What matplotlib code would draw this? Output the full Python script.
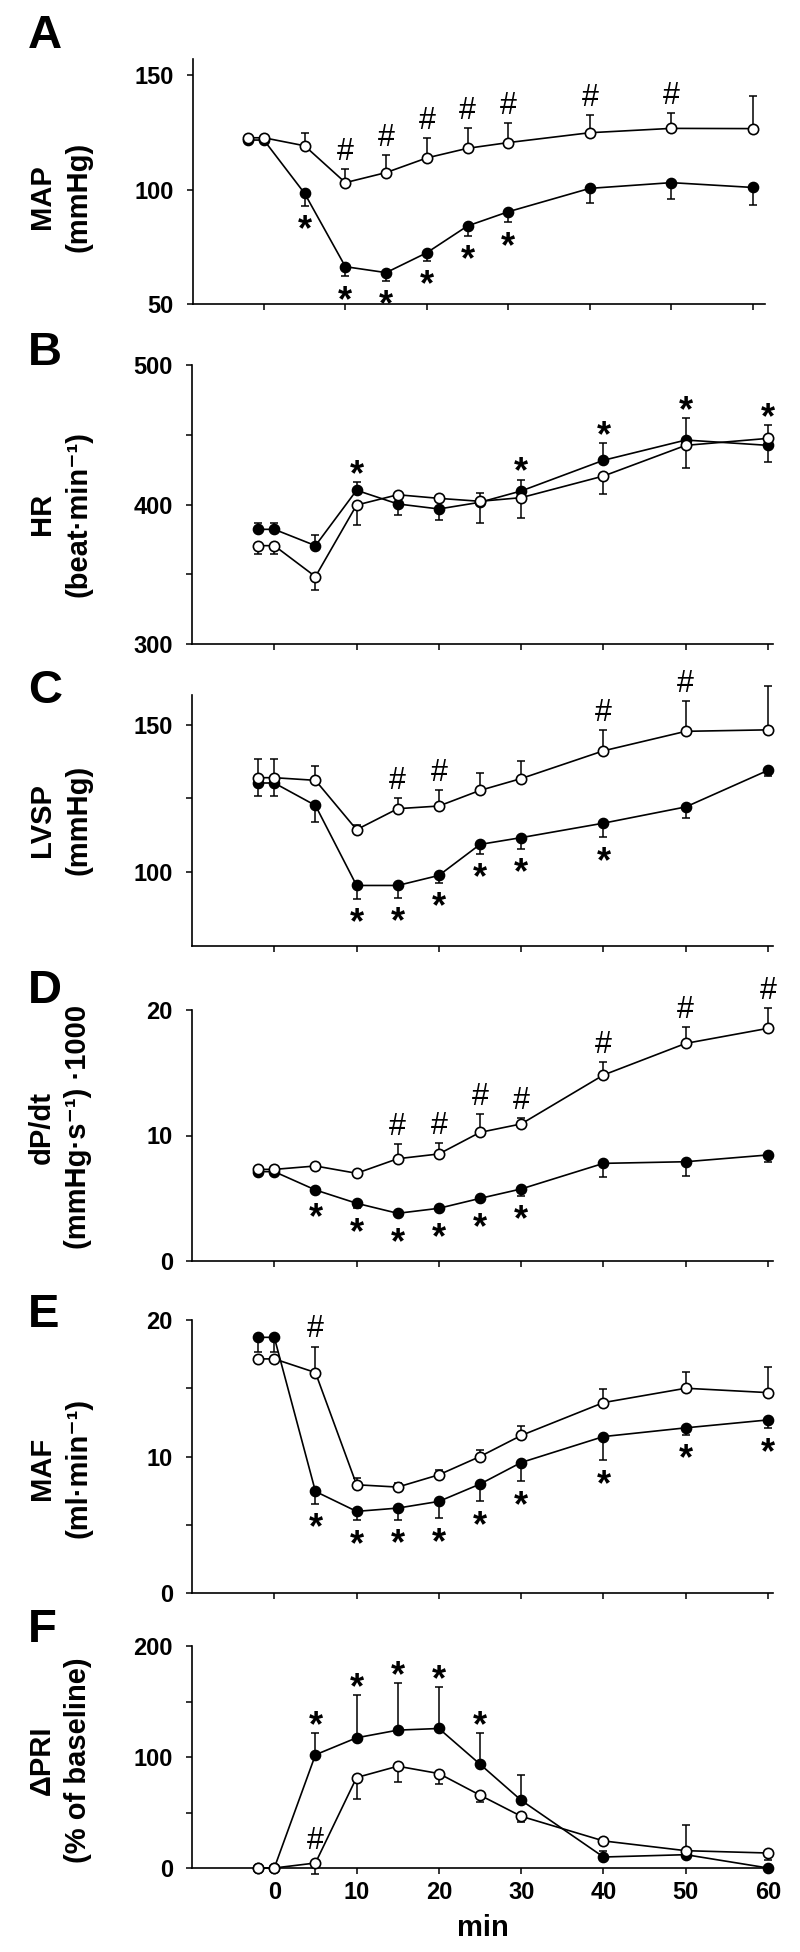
import matplotlib
matplotlib.use("Agg")
import matplotlib.pyplot as plt

plt.rcParams['font.family'] = ['Liberation Sans', 'DejaVu Sans']

# ---------------- data ----------------
minutes = [-2, 0, 5, 10, 15, 20, 25, 30, 40, 50, 60]
xtick_values = [0, 10, 20, 30, 40, 50, 60]

# A: MAP
map_filled = [121.6, 121.6, 98.3, 66.3, 63.7, 72.4, 84.1, 90.3, 100.5, 103.0, 100.9]
map_filled_lo = [0, 0, 5.5, 4.1, 3.5, 3.5, 4.4, 4.6, 6.2, 7.0, 7.7]
map_filled_hi = [0, 0, 0, 0, 0, 0, 0, 0, 0, 0, 0]
map_open = [122.6, 122.6, 119.1, 103.0, 107.4, 113.8, 118.0, 120.5, 124.8, 126.7, 126.6]
map_open_lo = [0, 0, 0, 0, 0, 0, 0, 0, 0, 0, 0]
map_open_hi = [0.8, 0.8, 5.4, 5.8, 7.6, 8.8, 8.7, 8.4, 7.7, 6.7, 14.4]
map_star = [5, 10, 15, 20, 25, 30]
map_hash = [10, 15, 20, 25, 30, 40, 50]

# B: HR
hr_filled = [382.2, 382.2, 370.5, 410.2, 400.4, 396.8, 401.6, 409.7, 431.7, 446.2, 442.4]
hr_filled_lo = [0, 0, 0, 0, 7.9, 7.9, 0, 0, 0, 0, 11.7]
hr_filled_hi = [4.8, 4.8, 7.4, 5.9, 0, 0, 6.4, 7.9, 12.1, 15.8, 0]
hr_open = [370.5, 370.5, 348.3, 399.6, 407.0, 404.4, 402.3, 404.9, 420.4, 442.4, 447.4]
hr_open_lo = [6.0, 6.0, 9.3, 14.3, 0, 0, 15.3, 14.9, 13.1, 16.4, 0]
hr_open_hi = [0, 0, 0, 0, 0, 0, 0, 0, 0, 0, 9.6]
hr_star = [10, 30, 40, 50, 60]
hr_hash = []

# C: LVSP
lvsp_filled = [130.2, 130.2, 122.6, 95.5, 95.5, 98.9, 109.4, 111.7, 116.6, 122.1, 134.5]
lvsp_filled_lo = [4.5, 4.5, 5.6, 4.5, 4.2, 2.5, 3.2, 3.8, 4.7, 3.7, 1.9]
lvsp_filled_hi = [0, 0, 0, 0, 0, 0, 0, 0, 0, 0, 0]
lvsp_open = [132.0, 132.0, 131.1, 114.4, 121.5, 122.4, 127.7, 131.7, 141.1, 147.7, 148.2]
lvsp_open_lo = [0, 0, 0, 0, 0, 0, 0, 0, 0, 0, 0]
lvsp_open_hi = [6.2, 6.2, 4.8, 1.6, 3.6, 5.5, 5.9, 5.9, 7.0, 10.2, 14.8]
lvsp_star = [10, 15, 20, 25, 30, 40]
lvsp_hash = [15, 20, 40, 50]

# D: dP/dt
dpdt_filled = [7.12, 7.12, 5.66, 4.6, 3.8, 4.2, 4.99, 5.74, 7.78, 7.91, 8.45]
dpdt_filled_lo = [0.3, 0.3, 0.27, 0.4, 0, 0, 0, 0.56, 1.06, 1.11, 0.54]
dpdt_filled_hi = [0, 0, 0, 0, 0, 0, 0, 0, 0, 0, 0]
dpdt_open = [7.3, 7.3, 7.57, 6.99, 8.15, 8.53, 10.25, 10.92, 14.82, 17.34, 18.54]
dpdt_open_lo = [0, 0, 0, 0, 0, 0, 0, 0, 0, 0, 0]
dpdt_open_hi = [0, 0, 0, 0, 1.17, 0.85, 1.46, 0.45, 1.06, 1.33, 1.59]
dpdt_star = [5, 10, 15, 20, 25, 30]
dpdt_hash = [15, 20, 25, 30, 40, 50, 60]

# E: MAF
maf_filled = [18.73, 18.73, 7.44, 5.98, 6.22, 6.71, 7.98, 9.56, 11.46, 12.1, 12.68]
maf_filled_lo = [1.05, 1.05, 0.9, 0.66, 0.85, 1.22, 1.27, 1.39, 1.75, 0.51, 0.61]
maf_filled_hi = [0, 0, 0, 0, 0, 0, 0, 0, 0, 0, 0]
maf_open = [17.15, 17.15, 16.15, 7.93, 7.76, 8.66, 10.0, 11.54, 13.95, 15.0, 14.68]
maf_open_lo = [0, 0, 0, 0, 0, 0, 0, 0, 0, 0, 0]
maf_open_hi = [0, 0, 1.9, 0.53, 0.29, 0.36, 0.49, 0.7, 0.98, 1.22, 1.91]
maf_star = [5, 10, 15, 20, 25, 30, 40, 50, 60]
maf_hash = [5]

# F: delta PRI
pri_filled = [0, 0, 102.0, 117.3, 124.2, 125.7, 93.5, 61.0, 9.9, 12.0, 0]
pri_filled_lo = [0, 0, 0, 0, 0, 0, 0, 0, 0, 0, 0]
pri_filled_hi = [0, 0, 19.2, 38.2, 42.1, 37.0, 27.7, 22.5, 5.4, 26.5, 0]
pri_open = [0, 0, 4.5, 81.5, 91.7, 85.1, 65.6, 46.6, 24.4, 15.6, 13.5]
pri_open_lo = [0, 0, 9.6, 18.9, 14.1, 9.0, 6.1, 5.1, 0, 0, 6.6]
pri_open_hi = [0, 0, 0, 0, 0, 0, 0, 0, 0, 0, 0]
pri_star = [5, 10, 15, 20, 25]
pri_hash = [5]

panels = [
    dict(letter='A', ylabel=('MAP', '(mmHg)'), filled=map_filled, flo=map_filled_lo, fhi=map_filled_hi,
         opn=map_open, olo=map_open_lo, ohi=map_open_hi, star=map_star, star_side='below', hsh=map_hash,
         ylim=(50, 157), yticks=[50, 100, 150], ylabels=['50', '100', '150'],
         box=(193, 765, 59, 304), xlim=(-8.7, 61.5), letter_y=48, label_y=197),
    dict(letter='B', ylabel=('HR', '(beat·min⁻¹)'), filled=hr_filled, flo=hr_filled_lo, fhi=hr_filled_hi,
         opn=hr_open, olo=hr_open_lo, ohi=hr_open_hi, star=hr_star, star_side='above', hsh=hr_hash,
         ylim=(300, 500), yticks=[300, 350, 400, 450, 500], ylabels=['300', '', '400', '', '500'],
         box=(192, 773, 365, 644), xlim=(-10, 60.6), letter_y=365, label_y=514),
    dict(letter='C', ylabel=('LVSP', '(mmHg)'), filled=lvsp_filled, flo=lvsp_filled_lo, fhi=lvsp_filled_hi,
         opn=lvsp_open, olo=lvsp_open_lo, ohi=lvsp_open_hi, star=lvsp_star, star_side='below', hsh=lvsp_hash,
         ylim=(75, 160), yticks=[100, 125, 150], ylabels=['100', '', '150'],
         box=(192, 773, 695, 946), xlim=(-10, 60.6), letter_y=703, label_y=820),
    dict(letter='D', ylabel=('dP/dt', '(mmHg·s⁻¹) ·1000'), filled=dpdt_filled, flo=dpdt_filled_lo, fhi=dpdt_filled_hi,
         opn=dpdt_open, olo=dpdt_open_lo, ohi=dpdt_open_hi, star=dpdt_star, star_side='below', hsh=dpdt_hash,
         ylim=(0, 20), yticks=[0, 10, 20], ylabels=['0', '10', '20'],
         box=(192, 773, 1010, 1261), xlim=(-10, 60.6), letter_y=1003, label_y=1127),
    dict(letter='E', ylabel=('MAF', '(ml·min⁻¹)'), filled=maf_filled, flo=maf_filled_lo, fhi=maf_filled_hi,
         opn=maf_open, olo=maf_open_lo, ohi=maf_open_hi, star=maf_star, star_side='below', hsh=maf_hash,
         ylim=(0, 20), yticks=[0, 5, 10, 15, 20], ylabels=['0', '', '10', '', '20'],
         box=(192, 773, 1320, 1593), xlim=(-10, 60.6), letter_y=1327, label_y=1468),
    dict(letter='F', ylabel=('ΔPRI', '(% of baseline)'), filled=pri_filled, flo=pri_filled_lo, fhi=pri_filled_hi,
         opn=pri_open, olo=pri_open_lo, ohi=pri_open_hi, star=pri_star, star_side='above', hsh=pri_hash,
         ylim=(0, 200), yticks=[0, 50, 100, 150, 200], ylabels=['0', '', '100', '', '200'],
         box=(192, 773, 1646, 1868), xlim=(-10, 60.6), letter_y=1642, label_y=1760),
]

# ---------------- style ----------------
W, H = 800, 1952
fig = plt.figure(figsize=(W / 100, H / 100), dpi=100)

LW = 1.2
MS = 7.4
R_PT = MS / 2
STAR_FS = 26
HASH_FS = 22
STAR_C = 0.575
HASH_C = 0.36
GAP_BELOW = 10.0
GAP_ABOVE = 13.0
GAP_HASH = 14.5
LABEL_BASE_X = (50, 86)   # baselines (px) of the two rotated y-label lines


def noclip(container):
    for ch in container.get_children():
        ch.set_clip_on(False)


for p in panels:
    l, r, t, b = p['box']
    ax = fig.add_axes([l / W, 1 - b / H, (r - l) / W, (b - t) / H])
    ax.set_xlim(*p['xlim'])
    ax.set_ylim(*p['ylim'])
    for s in ('top', 'right'):
        ax.spines[s].set_visible(False)
    for s in ('left', 'bottom'):
        ax.spines[s].set_linewidth(1.2)

    eb_kw = dict(fmt='none', ecolor='black', elinewidth=1.1, capsize=3.0, capthick=1.1)
    c1 = ax.errorbar(minutes, p['filled'], yerr=[p['flo'], p['fhi']], zorder=2, **eb_kw)
    noclip(c1)
    ln1, = ax.plot(minutes, p['filled'], '-o', color='black', lw=LW, ms=MS,
                   markerfacecolor='black', markeredgecolor='black', zorder=3)
    ln1.set_clip_on(False)
    c2 = ax.errorbar(minutes, p['opn'], yerr=[p['olo'], p['ohi']], zorder=4, **eb_kw)
    noclip(c2)
    ln2, = ax.plot(minutes, p['opn'], '-o', color='black', lw=LW, ms=MS, mew=1.2,
                   markerfacecolor='white', markeredgecolor='black', zorder=5)
    ln2.set_clip_on(False)

    # significance marks
    for xv in p['star']:
        i = minutes.index(xv)
        if p['star_side'] == 'below':
            end = p['filled'][i] - p['flo'][i]
            extra = R_PT if p['flo'][i] == 0 else 0
            dy = -(GAP_BELOW + extra) - STAR_C * STAR_FS
        else:
            cands = [(p['filled'][i] + p['fhi'][i], p['fhi'][i]), (p['opn'][i] + p['ohi'][i], p['ohi'][i])]
            end, e = max(cands)
            extra = R_PT if e == 0 else 0
            dy = (GAP_ABOVE + extra) - STAR_C * STAR_FS
        ax.annotate('*', xy=(xv, end), xytext=(0, dy), textcoords='offset points',
                    ha='center', va='baseline', fontsize=STAR_FS, fontweight='bold',
                    annotation_clip=False, zorder=6)
    for xv in p['hsh']:
        i = minutes.index(xv)
        end = p['opn'][i] + p['ohi'][i]
        extra = R_PT if p['ohi'][i] == 0 else 0
        dy = (GAP_HASH + extra) - HASH_C * HASH_FS
        ax.annotate('#', xy=(xv, end), xytext=(0, dy), textcoords='offset points',
                    ha='center', va='baseline', fontsize=HASH_FS,
                    annotation_clip=False, zorder=6)

    ax.set_yticks(p['yticks'])
    ax.set_yticklabels(p['ylabels'])
    ax.set_xticks(xtick_values)
    ax.tick_params(axis='both', direction='out', length=4.3, width=1.1, labelsize=17)
    ax.tick_params(axis='y', pad=9.5)
    ax.tick_params(axis='x', pad=5.4)
    for lab in ax.get_yticklabels() + ax.get_xticklabels():
        lab.set_fontweight('bold')
    if p['letter'] != 'F':
        ax.set_xticklabels([])

    fig.text(28 / W, 1 - p['letter_y'] / H, p['letter'], ha='left', va='baseline',
             fontsize=34, fontweight='bold')
    for line, bx in zip(p['ylabel'], LABEL_BASE_X):
        fig.text(bx / W, 1 - p['label_y'] / H, line, rotation=90, rotation_mode='anchor',
                 ha='center', va='baseline', fontsize=21, fontweight='bold')

fig.text(483 / W, 1 - 1936 / H, 'min', ha='center', va='baseline', fontsize=21, fontweight='bold')

fig.savefig('out.png', dpi=100)
